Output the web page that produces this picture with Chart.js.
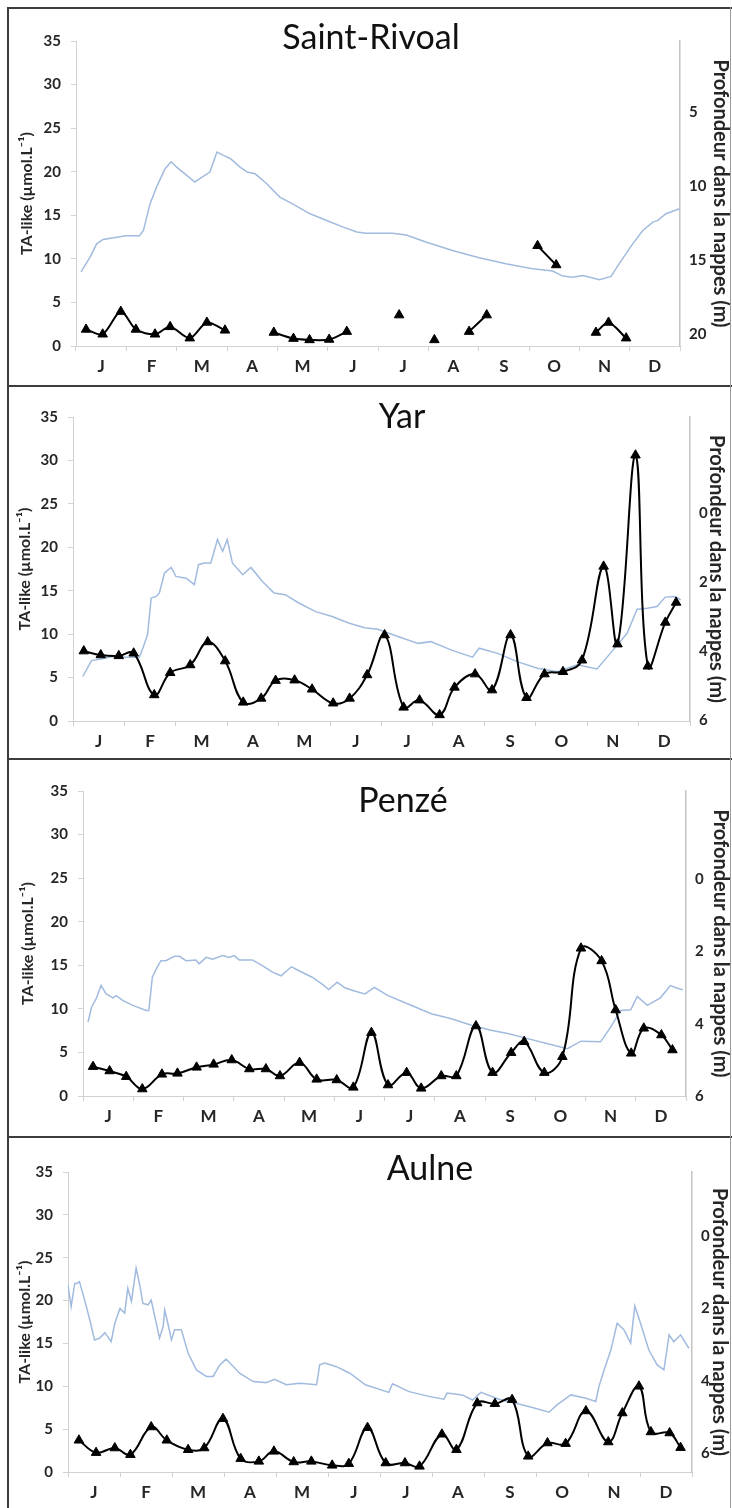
<!DOCTYPE html>
<html>
<head>
<meta charset="utf-8">
<title>TA-like et profondeur des nappes</title>
<script src="https://cdn.jsdelivr.net/npm/chart.js@4.4.1/dist/chart.umd.min.js"></script>
<style>
  html, body { margin: 0; padding: 0; background: #fff; }
  body { width: 732px; height: 1508px; position: relative; overflow: hidden; }
  canvas.panel { position: absolute; left: 0; width: 732px; }
  .rule { position: absolute; background: #3c3c3c; }
</style>
</head>
<body>
<canvas id="rivoal" class="panel" width="732" height="376" style="top:9px;height:376px"></canvas>
<canvas id="yar" class="panel" width="732" height="371" style="top:387px;height:371px"></canvas>
<canvas id="penze" class="panel" width="732" height="376" style="top:760px;height:376px"></canvas>
<canvas id="aulne" class="panel" width="732" height="370" style="top:1138px;height:370px"></canvas>

<div class="rule" style="left:7px;top:7px;width:2px;height:1501px"></div>
<div class="rule" style="left:7px;top:7px;width:725px;height:2px"></div>
<div class="rule" style="left:7px;top:385px;width:725px;height:2px"></div>
<div class="rule" style="left:7px;top:758px;width:725px;height:2px"></div>
<div class="rule" style="left:7px;top:1136px;width:725px;height:2px"></div>
<div class="rule" style="left:730px;top:7px;width:1px;height:1501px;background:#9a9a9a"></div>

<script>
// x positions are in months from 1 January (0) to 31 December (12)
const MONTHS = ['J', 'F', 'M', 'A', 'M', 'J', 'J', 'A', 'S', 'O', 'N', 'D'];
const MONTH_CENTERS = [0.5, 1.5, 2.5, 3.5, 4.5, 5.5, 6.5, 7.5, 8.5, 9.5, 10.5, 11.5];
const RIVOAL_DEPTH_TICKS = [5, 10, 15, 20];
const NAPPE_DEPTH_TICKS = [0, 2, 4, 6];

// Saint-Rivoal
const rivoalTaX = [0.2, 0.53, 0.89, 1.19, 1.57, 1.87, 2.26, 2.6, 2.96, 3.45, 3.93, 4.32, 4.64, 5.03, 5.38,
    5.9, 6.42, 6.77, 7.12, 7.46, 7.81, 8.16, 8.66, 9.17, 9.54, 9.93, 10.33, 10.58, 10.93];
const rivoalTaY = [1.9, 1.35, 3.95, 1.9, 1.35, 2.2, 0.9, 2.7, 1.8, null, 1.55, 0.85, 0.7, 0.75, 1.65,
    null, 3.55, null, 0.7, null, 1.65, 3.55, null, 11.5, 9.3, null, 1.55, 2.7, 0.9];
const rivoalDepthX = [0.1, 0.28, 0.41, 0.54, 0.81, 1.0, 1.26, 1.34, 1.47, 1.6, 1.77, 1.89, 2.0, 2.2, 2.36,
    2.46, 2.66, 2.8, 2.93, 3.07, 3.26, 3.4, 3.56, 3.79, 4.05, 4.32, 4.65, 4.98, 5.31, 5.58, 5.76, 6.29,
    6.56, 6.95, 7.48, 8.01, 8.54, 9.07, 9.47, 9.67, 9.87, 10.07, 10.4, 10.63, 10.79, 11.06, 11.26, 11.46,
    11.56, 11.72, 11.99];
const rivoalDepthY = [15.8, 14.8, 13.9, 13.6, 13.45, 13.35, 13.35, 13.0, 11.2, 10.07, 8.83, 8.36, 8.72, 9.28,
    9.73, 9.5, 9.05, 7.7, 7.93, 8.15, 8.72, 9.05, 9.17, 9.84, 10.74, 11.24, 11.87, 12.32, 12.77, 13.1,
    13.18, 13.18, 13.3, 13.78, 14.35, 14.84, 15.25, 15.59, 15.74, 16.08, 16.15, 16.04, 16.33, 16.1, 15.25,
    13.9, 13.0, 12.43, 12.32, 11.87, 11.53];

// Yar
const yarTaX = [0.21, 0.54, 0.89, 1.18, 1.58, 1.89, 2.28, 2.62, 2.96, 3.31, 3.66, 3.94, 4.31, 4.65, 5.06,
    5.38, 5.72, 6.06, 6.43, 6.74, 7.13, 7.42, 7.82, 8.15, 8.51, 8.82, 9.17, 9.53, 9.9, 10.32, 10.59,
    10.94, 11.18, 11.52, 11.73];
const yarTaY = [8.05, 7.6, 7.5, 7.8, 3.0, 5.55, 6.45, 9.1, 6.9, 2.15, 2.6, 4.65, 4.7, 3.65, 2.05, 2.6, 5.3,
    9.9, 1.57, 2.4, 0.7, 3.87, 5.4, 3.56, 9.9, 2.68, 5.4, 5.67, 7.0, 17.8, 8.85, 30.6, 6.3, 11.35, 13.65];
const yarDepthX = [0.19, 0.36, 0.52, 0.78, 1.03, 1.29, 1.37, 1.45, 1.52, 1.62, 1.68, 1.78, 1.91, 2.0, 2.2,
    2.36, 2.44, 2.55, 2.68, 2.81, 2.91, 3.0, 3.1, 3.3, 3.46, 3.68, 3.91, 4.13, 4.39, 4.72, 5.04, 5.36,
    5.67, 5.93, 6.32, 6.71, 6.96, 7.35, 7.77, 7.9, 8.26, 8.64, 9.03, 9.42, 9.81, 10.19, 10.45, 10.78,
    10.97, 11.17, 11.36, 11.52, 11.71, 11.82];
const yarDepthY = [4.74, 4.28, 4.24, 4.16, 4.18, 4.18, 3.87, 3.53, 2.47, 2.42, 2.32, 1.74, 1.58, 1.84, 1.89,
    2.08, 1.5, 1.45, 1.45, 0.77, 1.11, 0.77, 1.45, 1.79, 1.58, 1.98, 2.32, 2.37, 2.61, 2.86, 3.0, 3.19,
    3.33, 3.37, 3.58, 3.78, 3.73, 3.97, 4.18, 3.92, 4.07, 4.31, 4.5, 4.6, 4.4, 4.52, 4.07, 3.48, 2.79,
    2.76, 2.71, 2.44, 2.42, 2.52];

// Penzé
const penzeTaX = [0.2, 0.53, 0.86, 1.18, 1.57, 1.88, 2.26, 2.6, 2.96, 3.31, 3.64, 3.92, 4.31, 4.65, 5.05,
    5.38, 5.74, 6.07, 6.44, 6.73, 7.13, 7.43, 7.82, 8.15, 8.52, 8.78, 9.18, 9.54, 9.91, 10.32, 10.6,
    10.91, 11.16, 11.51, 11.73];
const penzeTaY = [3.37, 2.87, 2.22, 0.8, 2.49, 2.6, 3.29, 3.63, 4.13, 3.1, 3.1, 2.3, 3.83, 1.91, 1.84, 0.99,
    7.27, 1.26, 2.68, 0.88, 2.3, 2.3, 8.03, 2.68, 4.97, 6.23, 2.68, 4.51, 16.95, 15.5, 9.87, 4.9, 7.77,
    7.0, 5.28];
const penzeDepthX = [0.1, 0.17, 0.26, 0.36, 0.46, 0.6, 0.66, 0.79, 0.99, 1.26, 1.31, 1.38, 1.46, 1.55, 1.65,
    1.82, 1.92, 2.05, 2.25, 2.31, 2.45, 2.58, 2.78, 2.91, 3.01, 3.11, 3.37, 3.57, 3.77, 3.94, 4.15, 4.3,
    4.56, 4.76, 4.89, 5.06, 5.22, 5.42, 5.61, 5.8, 6.07, 6.47, 6.93, 7.33, 7.73, 8.12, 8.45, 8.85, 9.25,
    9.64, 9.91, 10.3, 10.5, 10.7, 10.9, 11.03, 11.23, 11.49, 11.69, 11.86, 11.94];
const penzeDepthY = [3.95, 3.54, 3.31, 2.94, 3.17, 3.28, 3.22, 3.35, 3.49, 3.63, 3.63, 2.71, 2.48, 2.25, 2.25,
    2.13, 2.13, 2.25, 2.23, 2.34, 2.16, 2.21, 2.11, 2.16, 2.11, 2.23, 2.23, 2.39, 2.57, 2.67, 2.42, 2.53,
    2.71, 2.9, 3.05, 2.85, 3.01, 3.1, 3.17, 2.99, 3.22, 3.45, 3.72, 3.86, 4.04, 4.18, 4.27, 4.41, 4.55,
    4.69, 4.48, 4.5, 4.09, 3.63, 3.61, 3.24, 3.49, 3.28, 2.94, 3.03, 3.06];

// Aulne
const aulneTaX = [0.21, 0.54, 0.9, 1.2, 1.6, 1.9, 2.31, 2.62, 2.98, 3.32, 3.67, 3.96, 4.34, 4.68, 5.08, 5.4,
    5.76, 6.11, 6.48, 6.76, 7.19, 7.47, 7.87, 8.21, 8.54, 8.85, 9.22, 9.57, 9.96, 10.39, 10.66, 10.98,
    11.21, 11.57, 11.78];
const aulneTaY = [3.7, 2.26, 2.8, 2.02, 5.25, 3.7, 2.6, 2.8, 6.22, 1.56, 1.24, 2.41, 1.17, 1.24, 0.78, 0.97,
    5.17, 1.05, 1.05, 0.66, 4.4, 2.6, 8.05, 7.97, 8.44, 1.83, 3.38, 3.31, 7.12, 3.5, 6.88, 10.0, 4.67,
    4.55, 2.84];
const aulneDepthX = [0.0, 0.06, 0.13, 0.17, 0.22, 0.32, 0.42, 0.51, 0.61, 0.71, 0.83, 0.9, 1.0, 1.09, 1.15,
    1.22, 1.31, 1.38, 1.44, 1.54, 1.6, 1.67, 1.76, 1.83, 1.86, 1.92, 1.99, 2.05, 2.18, 2.31, 2.47, 2.66,
    2.79, 2.92, 3.04, 3.3, 3.56, 3.81, 3.97, 4.2, 4.46, 4.78, 4.84, 4.94, 5.16, 5.42, 5.72, 6.17, 6.24,
    6.56, 6.94, 7.23, 7.29, 7.58, 7.78, 7.94, 8.29, 8.61, 8.93, 9.25, 9.41, 9.67, 9.96, 10.15, 10.21,
    10.31, 10.44, 10.56, 10.69, 10.82, 10.9, 11.01, 11.17, 11.33, 11.46, 11.56, 11.65, 11.78, 11.94];
const aulneDepthY = [1.35, 1.95, 1.31, 1.31, 1.26, 1.77, 2.32, 2.87, 2.82, 2.67, 2.92, 2.41, 2.0, 2.13, 1.44,
    1.81, 0.89, 1.35, 1.86, 1.9, 1.77, 2.23, 2.82, 2.5, 2.04, 2.41, 2.87, 2.59, 2.59, 3.24, 3.7, 3.88,
    3.88, 3.56, 3.4, 3.79, 4.02, 4.05, 3.96, 4.11, 4.07, 4.11, 3.56, 3.51, 3.61, 3.79, 4.11, 4.32, 4.08,
    4.3, 4.43, 4.51, 4.34, 4.39, 4.53, 4.32, 4.51, 4.62, 4.74, 4.87, 4.66, 4.39, 4.48, 4.57, 4.16, 3.7,
    3.15, 2.41, 2.59, 2.96, 1.93, 2.41, 3.15, 3.56, 3.7, 2.73, 2.92, 2.73, 3.1];

const FONT = 'Lato';
const TICK_COLOR = '#262626';
const AXIS_COLOR = '#d2d2d2';

const toPoints = (xs, ys) => xs.map((x, i) => ({ x: x, y: ys[i] }));

/* ---- Site name written inside the panel ---- */
const panelTitle = {
    id: 'panelTitle',
    afterDraw(chart, args, opts) {
        const ctx = chart.ctx;
        ctx.save();
        ctx.font = '34px ' + FONT;
        ctx.fillStyle = '#111';
        ctx.textAlign = 'center';
        ctx.textBaseline = 'alphabetic';
        ctx.fillText(opts.text, opts.x, opts.y);
        ctx.restore();
    }
};

function makePanel(id, p) {
    const canvas = document.getElementById(id);
    const H = canvas.height;

    new Chart(canvas, {
        type: 'line',
        data: {
            datasets: [
                {
                    label: 'TA-like',
                    data: toPoints(p.taX, p.taY),
                    yAxisID: 'y',
                    borderColor: '#000',
                    borderWidth: 2,
                    tension: p.tension,
                    pointStyle: 'triangle',
                    pointRadius: 5.5,
                    pointBackgroundColor: '#000',
                    pointBorderColor: '#000',
                    pointBorderWidth: 1,
                    spanGaps: false,
                },
                {
                    label: 'Profondeur',
                    data: toPoints(p.depthX, p.depthY),
                    yAxisID: 'depth',
                    borderColor: '#a1bbdf',
                    borderWidth: 1.5,
                    pointRadius: 0,
                    tension: 0,
                },
            ],
        },
        options: {
            responsive: false,
            animation: false,
            devicePixelRatio: 1,
            layout: { padding: { top: p.chartTop, left: 0, right: 0, bottom: 0 } },
            plugins: {
                legend: { display: false },
                tooltip: { enabled: false },
                panelTitle: { text: p.title, x: p.titleX, y: p.titleY },
            },
            scales: {
                x: {
                    type: 'linear',
                    min: 0,
                    max: 12,
                    afterBuildTicks: (s) => { s.ticks = MONTH_CENTERS.map(v => ({ value: v })); },
                    afterFit: (s) => { s.height = H - p.chartBottom; },
                    ticks: {
                        autoSkip: false,
                        maxRotation: 0,
                        padding: 5,
                        color: TICK_COLOR,
                        font: { family: FONT, size: 17, weight: 'bold' },
                        callback: (v, i) => MONTHS[i],
                    },
                    grid: { offset: true, drawOnChartArea: false, tickLength: 5, color: AXIS_COLOR },
                    border: { color: AXIS_COLOR },
                },
                y: {
                    position: 'left',
                    min: 0,
                    max: 35,
                    afterFit: (s) => { s.width = p.chartLeft; },
                    ticks: {
                        stepSize: 5,
                        padding: 10,
                        color: TICK_COLOR,
                        font: { family: FONT, size: 15, weight: 'bold' },
                    },
                    grid: { drawOnChartArea: false, tickLength: 5, color: AXIS_COLOR },
                    border: { color: AXIS_COLOR },
                    title: {
                        display: true,
                        text: 'TA-like (µmol.L⁻¹)',
                        color: TICK_COLOR,
                        font: { family: FONT, size: 16, weight: 'bold' },
                        padding: { top: p.leftTitlePad, bottom: 0 },
                    },
                },
                depth: {
                    position: 'right',
                    reverse: true,
                    min: p.depthMin,
                    max: p.depthMax,
                    afterBuildTicks: (s) => { s.ticks = p.depthTicks.map(v => ({ value: v })); },
                    afterFit: (s) => { s.width = 732 - p.chartRight; },
                    ticks: {
                        padding: 9,
                        color: TICK_COLOR,
                        font: { family: FONT, size: 15, weight: 'bold' },
                    },
                    grid: { drawOnChartArea: false, drawTicks: false, color: '#c4c4c4' },
                    border: { color: '#c4c4c4', width: 1.5 },
                    title: {
                        display: true,
                        text: 'Profondeur dans la nappes (m)',
                        color: TICK_COLOR,
                        font: { family: FONT, size: 20, weight: 'bold' },
                        padding: { top: p.rightTitlePad, bottom: 0 },
                    },
                },
            },
        },
        plugins: [panelTitle],
    });
}

makePanel('rivoal', {
    title: 'Saint-Rivoal', titleX: 371, titleY: 40,
    taX: rivoalTaX, taY: rivoalTaY, depthX: rivoalDepthX, depthY: rivoalDepthY,
    tension: 0.3, depthMin: 0.2, depthMax: 20.8, depthTicks: RIVOAL_DEPTH_TICKS,
    chartTop: 32, chartBottom: 337, chartLeft: 76, chartRight: 680,
    leftTitlePad: 17, rightTitlePad: 0,
});

makePanel('yar', {
    title: 'Yar', titleX: 402, titleY: 41,
    taX: yarTaX, taY: yarTaY, depthX: yarDepthX, depthY: yarDepthY,
    tension: 0.4, depthMin: -2.78, depthMax: 6.03, depthTicks: NAPPE_DEPTH_TICKS,
    chartTop: 30, chartBottom: 334, chartLeft: 73, chartRight: 690,
    leftTitlePad: 15, rightTitlePad: 4,
});

makePanel('penze', {
    title: 'Penzé', titleX: 403, titleY: 52,
    taX: penzeTaX, taY: penzeTaY, depthX: penzeDepthX, depthY: penzeDepthY,
    tension: 0.4, depthMin: -2.45, depthMax: 6.0, depthTicks: NAPPE_DEPTH_TICKS,
    chartTop: 31, chartBottom: 336, chartLeft: 83, chartRight: 686,
    leftTitlePad: 18, rightTitlePad: 0,
});

makePanel('aulne', {
    title: 'Aulne', titleX: 430, titleY: 42,
    taX: aulneTaX, taY: aulneTaY, depthX: aulneDepthX, depthY: aulneDepthY,
    tension: 0.4, depthMin: -1.77, depthMax: 6.52, depthTicks: NAPPE_DEPTH_TICKS,
    chartTop: 34, chartBottom: 334, chartLeft: 68, chartRight: 692,
    leftTitlePad: 15, rightTitlePad: 1,
});
</script>
</body>
</html>
